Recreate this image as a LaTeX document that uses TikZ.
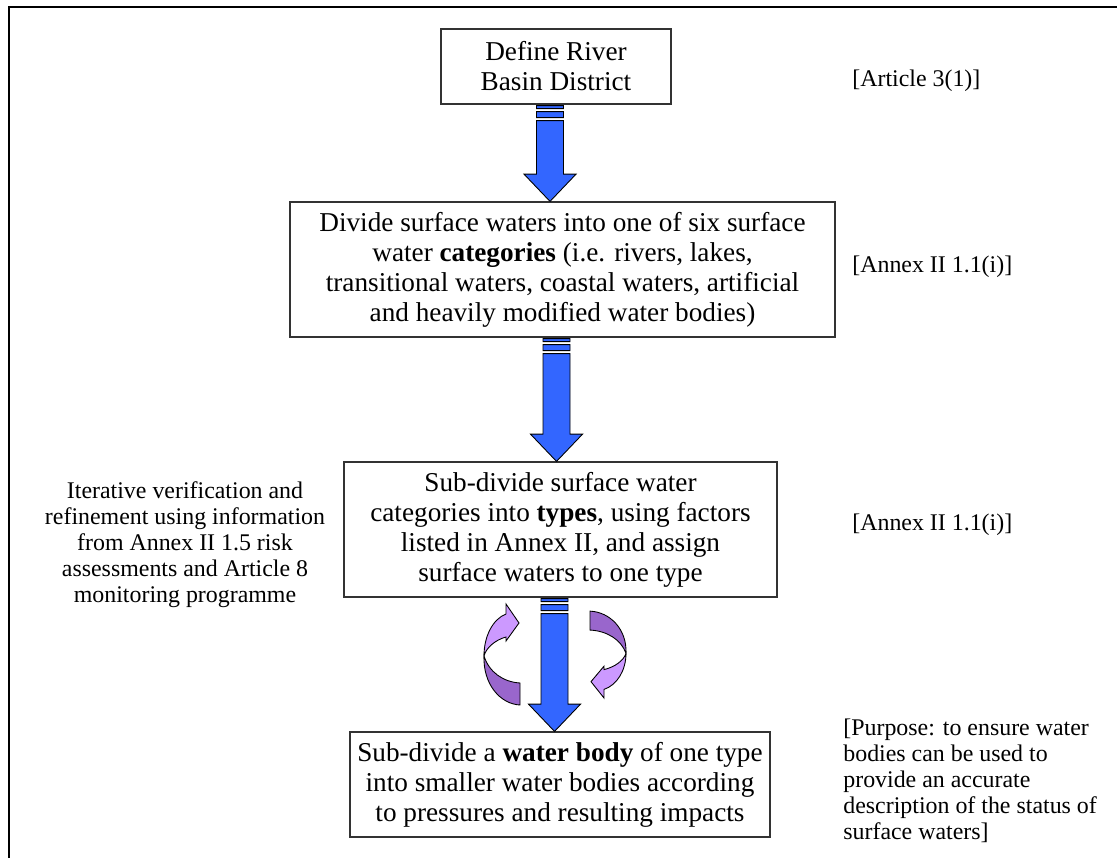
\documentclass[tikz,border=0pt]{standalone}
\usepackage{fontspec}
\setmainfont{Liberation Serif}
\usepackage{tikz}
\usetikzlibrary{calc, positioning}

\definecolor{arrowblue}{RGB}{51, 102, 255}
\definecolor{lilaclight}{RGB}{204, 153, 255}
\definecolor{lilacdark}{RGB}{153, 102, 204}

\newcommand{\mainsize}{\fontsize{15.5}{17.07}\selectfont}
\newcommand{\notesize}{\fontsize{13.6}{14.8}\selectfont}

\newcommand{\blockarrow}[2]{%
  \path[draw=black, line width=0.5pt, fill=arrowblue]
    let \p1=($(#1.south)+(-3.4pt,0)$), \p2=(#2.north) in
    (\x1-7.7pt,\y1-0.6pt) rectangle (\x1+7.7pt,\y1-2.3pt)
    (\x1-7.7pt,\y1-4pt) rectangle (\x1+7.7pt,\y1-7.4pt)
    (\x1-7.7pt,\y1-9.1pt) -- (\x1+7.7pt,\y1-9.1pt) -- (\x1+7.7pt,\y2+15.5pt)
    -- (\x1+14.8pt,\y2+15.5pt) -- (\x1,\y2) -- (\x1-14.8pt,\y2+15.5pt)
    -- (\x1-7.7pt,\y2+15.5pt) -- cycle;}

\newcommand{\loopribbon}{%
  \draw[fill=lilacdark] (-71,2) .. controls (-66,18) and (-52,28) .. (-35,29)
    -- (-35,51) .. controls (-55,50) and (-72,30) .. (-71,2) -- cycle;
  \draw[fill=lilaclight] (-71,2) .. controls (-71,-18) and (-62,-35) .. (-49,-40)
    -- (-49,-50) -- (-36,-31) -- (-49,-13) -- (-49,-17)
    .. controls (-60,-14) and (-69,-6) .. (-71,2) -- cycle;}

\begin{document}
\begin{tikzpicture}[
  x=0.02cm, y=-0.02cm,
  stepbox/.style={draw=black!80, line width=0.7pt, fill=white, align=center, inner sep=0pt, font=\mainsize},
  note/.style={inner sep=0pt, font=\notesize}
]
  \useasboundingbox (0,0) rectangle (1117,858);
  \draw[line width=1.6pt] (9,858) -- (9,7) -- (1117,7);

  \node[stepbox, minimum width=4.6cm, minimum height=1.5cm] (b1) at (556,66.5)
    {Define River\\Basin District};
  \node[stepbox, minimum width=10.9cm, minimum height=2.7cm] (b2) at (562.5,269.5)
    {Divide surface waters into one of six surface\\
     water \textbf{categories} (i.e. rivers, lakes,\\
     transitional waters, coastal waters, artificial\\
     and heavily modified water bodies)};
  \node[stepbox, minimum width=8.66cm, minimum height=2.7cm] (b3) at (560.5,529.5)
    {Sub-divide surface water\\
     categories into \textbf{types}, using factors\\
     listed in Annex II, and assign\\
     surface waters to one type};
  \node[stepbox, minimum width=8.4cm, minimum height=2.1cm] (b4) at (560,784.5)
    {Sub-divide a \textbf{water body} of one type\\
     into smaller water bodies according\\
     to pressures and resulting impacts};

  \node[note, anchor=west] (l1) at (852,81) {[Article 3(1)]};
  \node[note, anchor=west] (l2) at (852,267) {[Annex II 1.1(i)]};
  \node[note, anchor=west] (l3) at (852,525) {[Annex II 1.1(i)]};
  \node[note, anchor=west, align=left] (l4) at (843,781)
    {[Purpose: to ensure water\\
     bodies can be used to\\
     provide an accurate\\
     description of the status of\\
     surface waters]};
  \node[note, align=center] (iter) at (185,545)
    {Iterative verification and\\
     refinement using information\\
     from Annex II 1.5 risk\\
     assessments and Article 8\\
     monitoring programme};

  \blockarrow{b1}{b2}
  \blockarrow{b2}{b3}
  \blockarrow{b3}{b4}

  \begin{scope}[shift={(555,654)}, line width=0.5pt]
    \loopribbon
  \end{scope}
  \begin{scope}[shift={(555,655)}, rotate=180, yscale=0.86, line width=0.5pt]
    \loopribbon
  \end{scope}
\end{tikzpicture}
\end{document}
